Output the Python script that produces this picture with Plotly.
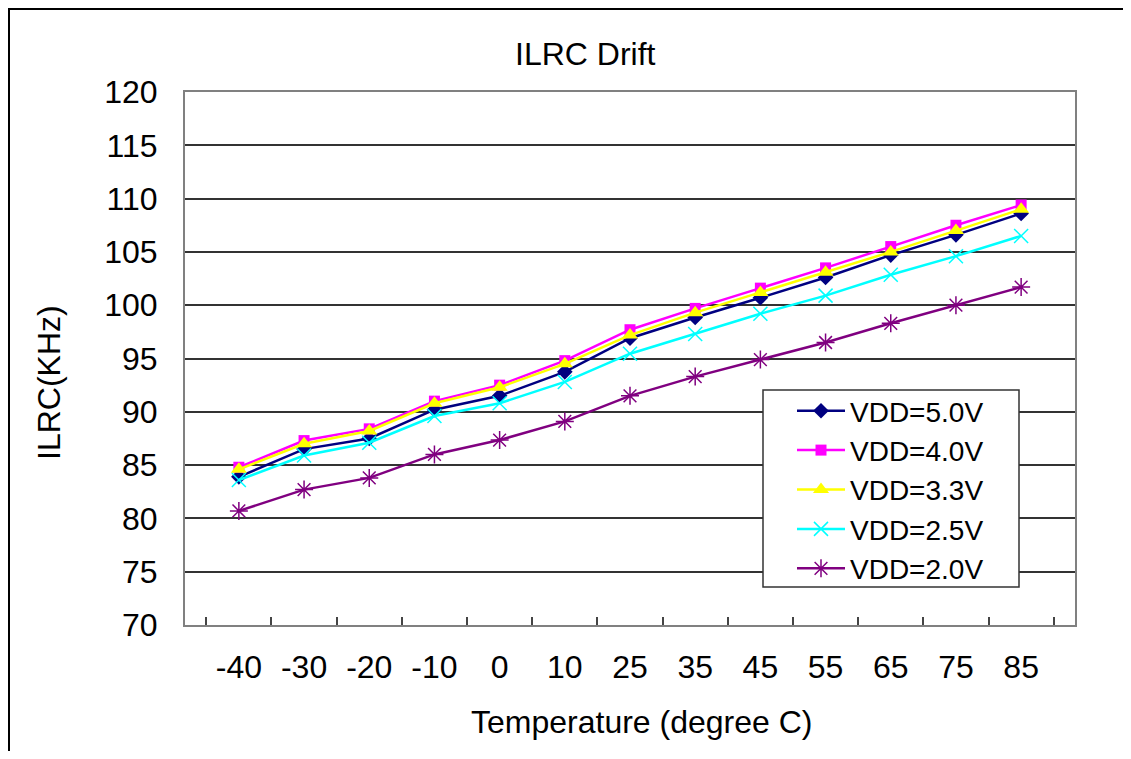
import plotly.graph_objects as go

temps = ["-40", "-30", "-20", "-10", "0", "10", "25", "35", "45", "55", "65", "75", "85"]
vdd50 = [83.9, 86.5, 87.5, 90.2, 91.5, 93.75, 96.9, 98.85, 100.7, 102.6, 104.7, 106.6, 108.6]
vdd40 = [84.8, 87.3, 88.4, 91.0, 92.5, 94.8, 97.7, 99.7, 101.6, 103.5, 105.5, 107.5, 109.4]
vdd33 = [84.6, 87.0, 88.2, 90.8, 92.3, 94.5, 97.2, 99.3, 101.2, 103.1, 105.0, 107.0, 109.0]
vdd25 = [83.6, 85.9, 87.1, 89.6, 90.8, 92.8, 95.45, 97.3, 99.2, 100.9, 102.85, 104.6, 106.5]
vdd20 = [80.7, 82.7, 83.8, 86.0, 87.35, 89.1, 91.5, 93.3, 94.9, 96.5, 98.3, 100.0, 101.7]
series_names = ["VDD=5.0V", "VDD=4.0V", "VDD=3.3V", "VDD=2.5V", "VDD=2.0V"]
y_ticks = [70, 75, 80, 85, 90, 95, 100, 105, 110, 115, 120]

FONT = "Arial, Liberation Sans, sans-serif"
OFF = 8  # page body margin
W, H = 1131 - 2 * OFF, 759 - 2 * OFF
# intended plot box in screenshot pixels
L, R, T, B = 185, 1075, 92, 625
l_m, t_m = L - OFF, T - OFF
r_m, b_m = W - (R - OFF), H - (B - OFF)

def px_x(p):
    return (p - L) / (R - L)

def px_y(p):
    return (B - p) / (B - T)

styles = [
    dict(color="#000080", marker=dict(symbol="diamond", size=12, color="#000080")),
    dict(color="#FF00FF", marker=dict(symbol="square", size=11, color="#FF00FF")),
    dict(color="#FFFF00", marker=dict(symbol="triangle-up", size=14, color="#FFFF00")),
    dict(color="#00FFFF", marker=dict(symbol="x-thin-open", size=14, color="#00FFFF",
                                      line=dict(width=1.5, color="#00FFFF"))),
    dict(color="#800080", marker=dict(symbol="asterisk-open", size=15, color="#800080",
                                      line=dict(width=1.5, color="#800080"))),
]

fig = go.Figure()
for name, vals, st in zip(series_names, [vdd50, vdd40, vdd33, vdd25, vdd20], styles):
    fig.add_trace(go.Scatter(
        x=temps, y=vals, name=name, mode="lines+markers",
        line=dict(color=st["color"], width=2.5),
        marker=st["marker"],
    ))

bx0, by0 = px_x(9), px_y(800)
bx1, by1 = px_x(1200), px_y(9)
frame_path = f"M {bx0},{by0} L {bx0},{by1} L {bx1},{by1}"

fig.update_layout(
    width=W, height=H,
    margin=dict(l=l_m, r=r_m, t=t_m, b=b_m, pad=0),
    paper_bgcolor="white", plot_bgcolor="white",
    font=dict(family=FONT, size=32, color="black"),
    showlegend=True,
    legend=dict(
        x=px_x(792), y=px_y(386), xanchor="left", yanchor="top",
        bgcolor="rgba(0,0,0,0)", borderwidth=0,
        font=dict(family=FONT, size=28, color="black"),
        tracegroupgap=0, itemwidth=48,
    ),
    xaxis=dict(
        type="category", tickvals=temps, ticktext=temps,
        showgrid=False, showline=True, linecolor="#808080", linewidth=2, mirror=True,
        ticks="inside", tickson="boundaries", ticklen=8, tickcolor="#444444", tickwidth=1.5,
        ticklabelstandoff=13,
        tickfont=dict(family=FONT, size=32, color="black"),
        zeroline=False,
    ),
    yaxis=dict(
        range=[70, 120], tickvals=y_ticks,
        showgrid=True, gridcolor="#333333", gridwidth=1.5,
        showline=True, linecolor="#808080", linewidth=2, mirror=True,
        ticks="", ticklabelstandoff=19,
        tickfont=dict(family=FONT, size=32, color="black"),
        zeroline=False,
    ),
    annotations=[
        dict(text="ILRC Drift", x=px_x(585), y=px_y(54), xref="paper", yref="paper",
             showarrow=False, xanchor="center", yanchor="middle",
             font=dict(family=FONT, size=32, color="black")),
        dict(text="Temperature (degree C)", x=px_x(641), y=px_y(722), xref="paper", yref="paper",
             showarrow=False, xanchor="center", yanchor="middle",
             font=dict(family=FONT, size=32, color="black")),
        dict(text="ILRC(KHz)", x=px_x(49), y=px_y(383), xref="paper", yref="paper",
             showarrow=False, xanchor="center", yanchor="middle", textangle=-90,
             font=dict(family=FONT, size=32, color="black")),
    ],
    shapes=[
        dict(type="path", xref="paper", yref="paper", path=frame_path,
             line=dict(color="black", width=2), layer="below"),
        dict(type="rect", xref="paper", yref="paper",
             x0=px_x(763), x1=px_x(1019), y0=px_y(587), y1=px_y(390),
             line=dict(color="#333333", width=1.5), fillcolor="white", layer="above"),
    ],
)

fig.write_html("out.html")
